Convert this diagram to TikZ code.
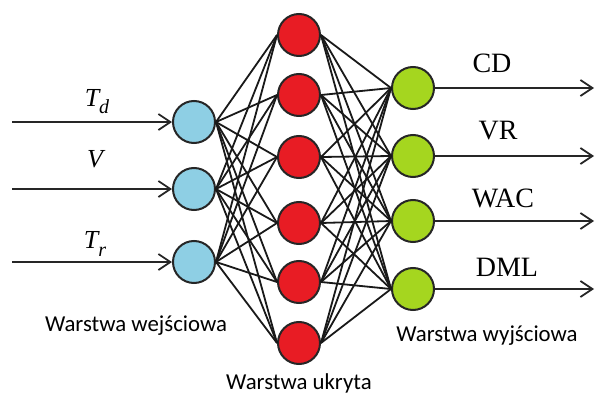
\documentclass[tikz,border=0pt]{standalone}
\usepackage{fontspec}
\setmainfont{Liberation Serif}
\newfontfamily\calib{Carlito}
\usetikzlibrary{arrows.meta}
\definecolor{inblue}{RGB}{142,207,228}
\definecolor{hidred}{RGB}{232,28,36}
\definecolor{outgreen}{RGB}{165,214,31}
\begin{document}
\begin{tikzpicture}[x=0.5pt,y=-0.5pt,
  neuron/.style={circle,draw=black!85,line width=1pt,minimum size=21pt,inner sep=0pt},
  innode/.style={neuron,fill=inblue},
  hidnode/.style={neuron,fill=hidred},
  outnode/.style={neuron,fill=outgreen},
  conn/.style={line width=0.9pt,black!90},
  sig/.style={line width=1pt,black!85,-{Straight Barb[length=6pt,width=8pt,line width=0.9pt]}},
  varlab/.style={anchor=base,font=\fontsize{13}{15}\selectfont\itshape},
  outlab/.style={anchor=base,font=\fontsize{14}{16}\selectfont},
  laylab/.style={anchor=base,font=\calib\fontsize{11.4}{13}\selectfont}]
\useasboundingbox (0,0) rectangle (596,396);
% input layer
\node[innode] (i1) at (194,122) {};
\node[innode] (i2) at (194,189) {};
\node[innode] (i3) at (194,262) {};
% hidden layer
\node[hidnode] (h1) at (299,35) {};
\node[hidnode] (h2) at (299,95) {};
\node[hidnode] (h3) at (299,157) {};
\node[hidnode] (h4) at (299,223) {};
\node[hidnode] (h5) at (299,282) {};
\node[hidnode] (h6) at (299,343) {};
% output layer
\node[outnode] (o1) at (413,88) {};
\node[outnode] (o2) at (413,156) {};
\node[outnode] (o3) at (413,221) {};
\node[outnode] (o4) at (413,289) {};
% connections
\foreach \i in {1,2,3}{
  \foreach \h in {1,...,6}{
    \draw[conn] (i\i.east) -- (h\h.west);
  }
}
\foreach \h in {1,...,6}{
  \foreach \o in {1,...,4}{
    \draw[conn] (h\h.east) -- (o\o.west);
  }
}
% input signals
\coordinate (s1) at (12,122);
\coordinate (s2) at (12,189);
\coordinate (s3) at (12,262);
\draw[sig] (s1) -- (i1.west);
\draw[sig] (s2) -- (i2.west);
\draw[sig] (s3) -- (i3.west);
% output signals
\coordinate (e1) at (594,88);
\coordinate (e2) at (594,156);
\coordinate (e3) at (594,221);
\coordinate (e4) at (594,289);
\draw[sig] (o1.east) -- (e1);
\draw[sig] (o2.east) -- (e2);
\draw[sig] (o3.east) -- (e3);
\draw[sig] (o4.east) -- (e4);
% labels
\node[varlab] (lTd) at (97,106) {T\raisebox{-0.3em}{\fontsize{10}{11}\selectfont d}};
\node[varlab] (lV) at (95,168) {V};
\node[varlab] (lTr) at (95,249) {T\raisebox{-0.3em}{\fontsize{10}{11}\selectfont r}};
\node[outlab] (lCD) at (492,72) {CD};
\node[outlab] (lVR) at (498,140) {VR};
\node[outlab] (lWAC) at (503,207) {WAC};
\node[outlab] (lDML) at (507,277) {DML};
\node[laylab] (lin) at (136,331) {Warstwa wejściowa};
\node[laylab] (lhid) at (299,389) {Warstwa ukryta};
\node[laylab] (lout) at (487,341) {Warstwa wyjściowa};
\end{tikzpicture}
\end{document}
